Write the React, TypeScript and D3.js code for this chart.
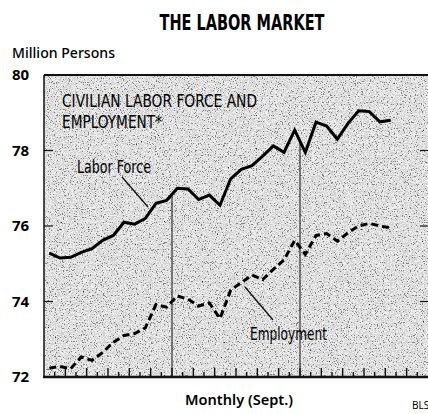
import React from "react";
import * as d3 from "d3";

// monthly values, million persons (Jan of year 1 .. Sept of year 3)
const laborForce = [
  75.28, 75.15, 75.17, 75.3, 75.4, 75.62, 75.75, 76.1, 76.05, 76.2, 76.6, 76.68,
  77.0, 76.98, 76.7, 76.82, 76.55, 77.25, 77.5, 77.6, 77.85, 78.12, 77.95, 78.54,
  77.95, 78.75, 78.65, 78.3, 78.72, 79.05, 79.03, 78.76, 78.8,
];
const employment = [
  72.23, 72.28, 72.22, 72.53, 72.44, 72.65, 72.92, 73.1, 73.15, 73.3, 73.92, 73.85,
  74.15, 74.06, 73.88, 73.96, 73.55, 74.3, 74.5, 74.7, 74.58, 74.85, 75.1, 75.62,
  75.25, 75.75, 75.8, 75.6, 75.82, 76.0, 76.07, 76.0, 75.95,
];
const yTicks = [80, 78, 76, 74, 72];
const yearBreaks = [12, 24];
const totalMonths = 36;

const W = 428;
const H = 414;
const left = 44;
const right = 428;
const top = 75;
const bottom = 377;

const condensed = "'Liberation Sans Narrow', 'DejaVu Sans Condensed', sans-serif";

export default function App() {
  const x = d3.scaleLinear().domain([0, totalMonths]).range([left, right]);
  const y = d3.scaleLinear().domain([72, 80]).range([bottom, top]);

  const line = d3
    .line<number>()
    .x((_, i) => x(i + 0.5))
    .y((d) => y(d));

  const monthTicks = d3.range(1, totalMonths);

  return (
    <svg
      width={W}
      height={H}
      style={{ position: "absolute", left: 0, top: 0, background: "#fff" }}
    >
      <defs>
        <filter id="grain" x="0" y="0" width="100%" height="100%">
          <feTurbulence type="fractalNoise" baseFrequency="0.85" numOctaves="2" seed="7" result="n" />
          <feColorMatrix
            in="n"
            type="matrix"
            values="0 0 0 0 0  0 0 0 0 0  0 0 0 0 0  1 0 0 0 0"
          />
          <feComponentTransfer>
            <feFuncA type="discrete" tableValues="0 0 0 0.12 0.45 0.8" />
          </feComponentTransfer>
        </filter>
        <clipPath id="plot">
          <rect x={left} y={top} width={right - left} height={bottom - top} />
        </clipPath>
      </defs>

      {/* title */}
      <text
        x={242}
        y={30}
        textAnchor="middle"
        fontFamily="'DejaVu Sans Condensed', 'DejaVu Sans'"
        fontWeight="bold"
        fontSize={22}
        textLength={165}
        lengthAdjust="spacingAndGlyphs"
      >
        THE LABOR MARKET
      </text>
      <text
        x={12}
        y={58}
        fontFamily="'Noto Sans', sans-serif"
        fontWeight={500}
        fontSize={14}
        textLength={103}
        lengthAdjust="spacingAndGlyphs"
      >
        Million Persons
      </text>

      {/* halftone background */}
      <rect x={left} y={top} width={right - left} height={bottom - top} fill="#ededed" />
      <rect
        x={left}
        y={top}
        width={right - left}
        height={bottom - top}
        filter="url(#grain)"
        clipPath="url(#plot)"
      />

      {/* frame */}
      <line x1={left} x2={right} y1={top} y2={top} stroke="#111" strokeWidth={2} />
      <line x1={left} x2={left} y1={top} y2={bottom} stroke="#111" strokeWidth={1.5} />
      <line x1={left - 1} x2={right} y1={bottom} y2={bottom} stroke="#111" strokeWidth={2.5} />

      {/* y ticks and labels */}
      {yTicks.map((t) => (
        <g key={t}>
          {t !== 80 && t !== 72 && (
            <>
              <line x1={left} x2={left + 9} y1={y(t)} y2={y(t)} stroke="#111" strokeWidth={1.2} />
              <line x1={right - 8} x2={right} y1={y(t)} y2={y(t)} stroke="#111" strokeWidth={1.2} />
            </>
          )}
          <text
            x={12}
            y={y(t)}
            dy="0.36em"
            fontFamily="'Noto Sans', sans-serif"
            fontWeight="bold"
            fontSize={15}
          >
            {t}
          </text>
        </g>
      ))}

      {/* month ticks */}
      {monthTicks.map((m) => (
        <line
          key={m}
          x1={x(m)}
          x2={x(m)}
          y1={bottom}
          y2={bottom - (m % 2 === 0 ? 9 : 5)}
          stroke="#111"
          strokeWidth={1.4}
        />
      ))}

      {/* year separators */}
      {yearBreaks.map((b) => (
        <line
          key={b}
          x1={x(b)}
          x2={x(b)}
          y1={y((laborForce[b - 1] + laborForce[b]) / 2)}
          y2={bottom}
          stroke="#111"
          strokeWidth={1}
        />
      ))}

      {/* series */}
      <path
        d={line(laborForce) ?? ""}
        fill="none"
        stroke="#000"
        strokeWidth={3}
        strokeLinejoin="miter"
      />
      <path
        d={line(employment) ?? ""}
        fill="none"
        stroke="#000"
        strokeWidth={3}
        strokeDasharray="7 4"
      />

      {/* annotations */}
      <text x={62} y={107} fontFamily={condensed} fontSize={17} textLength={195} lengthAdjust="spacingAndGlyphs">
        CIVILIAN LABOR FORCE AND
      </text>
      <text x={62} y={128} fontFamily={condensed} fontSize={17} textLength={100} lengthAdjust="spacingAndGlyphs">
        EMPLOYMENT*
      </text>
      <text x={77} y={173} fontFamily={condensed} fontSize={17} textLength={74} lengthAdjust="spacingAndGlyphs">
        Labor Force
      </text>
      <line x1={122} y1={177} x2={148} y2={207} stroke="#111" strokeWidth={1.3} />
      <text x={250} y={340} fontFamily={condensed} fontSize={17} textLength={77} lengthAdjust="spacingAndGlyphs">
        Employment
      </text>
      <line x1={245} y1={287} x2={273} y2={320} stroke="#111" strokeWidth={1.3} />

      <text
        x={239}
        y={405}
        textAnchor="middle"
        fontFamily="'Noto Sans', sans-serif"
        fontWeight={600}
        fontSize={14}
        textLength={108}
        lengthAdjust="spacingAndGlyphs"
      >
        Monthly (Sept.)
      </text>
      <text x={412} y={409} fontFamily="'Noto Sans', sans-serif" fontSize={10}>
        BLS
      </text>
    </svg>
  );
}
